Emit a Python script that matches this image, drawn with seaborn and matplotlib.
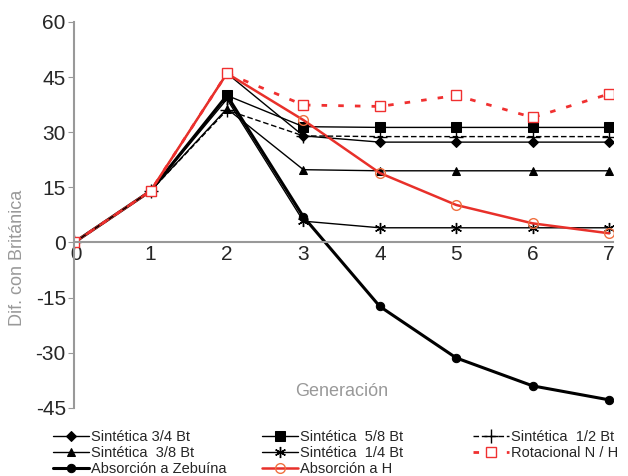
import pandas as pd
import matplotlib
matplotlib.use('Agg')
import matplotlib.pyplot as plt
import seaborn as sns

# Datos
generacion = [0, 1, 2, 3, 4, 5, 6, 7]
sint_3_4 = [0, 14, 46, 29, 27.3, 27.3, 27.3, 27.3]
sint_5_8 = [0, 14, 40, 31.5, 31.3, 31.3, 31.3, 31.3]
sint_1_2 = [0, 14, 36, 29, 28.8, 28.8, 28.8, 28.8]
sint_3_8 = [0, 14, 36.4, 19.8, 19.5, 19.5, 19.5, 19.5]
sint_1_4 = [0, 14, 39, 5.8, 4, 4, 4, 4]
rotacional = [0, 14, 46, 37.4, 37, 40, 34, 40.4]
zebuina = [0, 14, 40, 7, -17.4, -31.4, -39, -42.8]
absorcion_h = [0, 14, 46, 33.3, 18.9, 10.2, 5.2, 2.5]

sns.set_style("white")
plt.rcParams['font.family'] = ['Liberation Sans', 'DejaVu Sans']
plt.rcParams['axes.unicode_minus'] = False

fig, ax = plt.subplots(figsize=(6.28, 4.76), dpi=100)
fig.subplots_adjust(left=0.118, right=0.976, top=0.954, bottom=0.143)

# --- Series ---
sns.lineplot(x=generacion, y=sint_3_4, ax=ax, color='black', lw=1, marker='D', ms=5,
             mec='black', label='Sintética 3/4 Bt')
sns.lineplot(x=generacion, y=sint_3_8, ax=ax, color='black', lw=1, marker='^', ms=6,
             mec='black', label='Sintética  3/8 Bt')
sns.lineplot(x=generacion, y=zebuina, ax=ax, color='black', lw=2.2, marker='o', ms=6,
             mec='black', label='Absorción a Zebuína')
sns.lineplot(x=generacion, y=sint_5_8, ax=ax, color='black', lw=1, marker='s', ms=7,
             mec='black', label='Sintética  5/8 Bt')
sns.lineplot(x=generacion, y=sint_1_4, ax=ax, color='black', lw=1, marker=(6, 2, 0), ms=8,
             mec='black', mew=1, label='Sintética  1/4 Bt')
sns.lineplot(x=generacion, y=absorcion_h, ax=ax, color='#e8302a', lw=1.8, marker='o', ms=7,
             mfc='none', mec='#f07040', mew=1, label='Absorción a H')
sns.lineplot(x=generacion, y=sint_1_2, ax=ax, color='black', lw=1, ls=(0, (4, 2)),
             marker='+', ms=10, mec='black', mew=1, label='Sintética  1/2 Bt')
sns.lineplot(x=generacion, y=rotacional, ax=ax, color='#f03030', lw=2, ls=(0, (2, 4)),
             marker='s', ms=6.5, mfc='white', mec='#f03030', mew=1, label='Rotacional N / H')

# --- Ejes ---
ax.set_xlim(0, 7.05)
ax.set_ylim(-45, 60)
ax.set_yticks([-45, -30, -15, 0, 15, 30, 45, 60])
ax.set_xticks(generacion)
ax.set_xticklabels([' 0'] + [str(g) for g in generacion[1:]])
ax.tick_params(axis='y', labelsize=15, length=4, color='#999999', direction='out', left=True, pad=2)
ax.tick_params(axis='x', labelsize=15, length=0, pad=2)
# el "0" del eje x va a la derecha del eje y
ax.get_xticklabels()[0].set_horizontalalignment('left')

ax.spines['top'].set_visible(False)
ax.spines['right'].set_visible(False)
ax.spines['left'].set_color('#999999')
ax.spines['left'].set_linewidth(1.5)
ax.spines['bottom'].set_position(('data', 0))
ax.spines['bottom'].set_color('#999999')
ax.spines['bottom'].set_linewidth(1.5)
ax.set_axisbelow(True)

ax.set_ylabel('Dif. con Británica', fontsize=13, color='#999999')
ax.yaxis.set_label_coords(-0.09, 0.39)
ax.text(3.5, -40.5, 'Generación', fontsize=13, color='#999999', ha='center', va='center')

# --- Leyenda debajo del gráfico: tres columnas independientes ---
handles, labels = ax.get_legend_handles_labels()
if ax.get_legend() is not None:
    ax.get_legend().remove()
columnas = [(0.0844, [0, 1, 2]), (0.417, [3, 4, 5]), (0.753, [6, 7])]
for x0, idx in columnas:
    fig.legend([handles[i] for i in idx], [labels[i] for i in idx],
               loc='upper left', bbox_to_anchor=(x0, 0.096), frameon=False,
               fontsize=10.5, handlelength=2.45, handletextpad=0.15,
               labelspacing=0.12, borderaxespad=0, borderpad=0)

fig.savefig('out.png', dpi=100)
